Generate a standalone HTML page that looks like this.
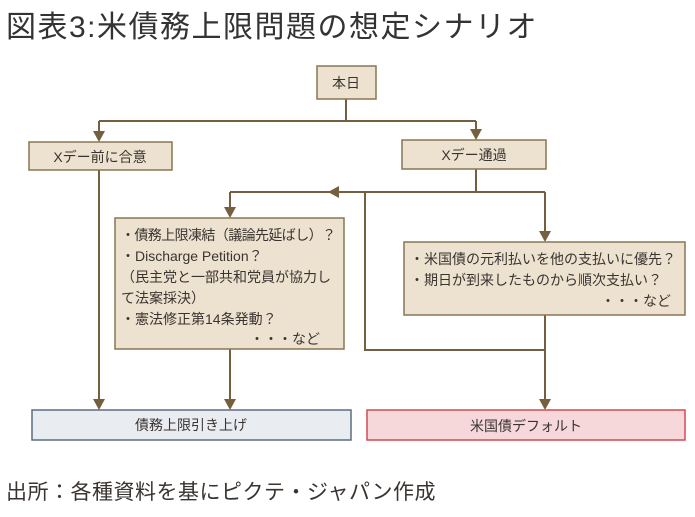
<!DOCTYPE html>
<html><head><meta charset="utf-8"><style>
body{margin:0;background:#fff;width:695px;height:512px;overflow:hidden}
svg text{font-family:"Liberation Sans","Noto Sans CJK JP",sans-serif;fill:#3a3430}
</style></head><body>
<svg width="695" height="512" xmlns="http://www.w3.org/2000/svg">
<text x="6" y="37" font-size="30" style="fill:#333;letter-spacing:1.5px">図表3:米債務上限問題の想定シナリオ</text>
<g stroke="#74603e" stroke-width="2" fill="none">
<line x1="346" y1="99" x2="346" y2="121"/>
<polyline points="99,121 476,121"/>
<line x1="99" y1="121" x2="99" y2="133"/>
<line x1="476" y1="121" x2="476" y2="131"/>
<line x1="476" y1="169" x2="476" y2="192"/>
<polyline points="230,192 545,192"/>
<line x1="230" y1="192" x2="230" y2="208"/>
<line x1="545" y1="192" x2="545" y2="232"/>
<polyline points="365,192 365,350 545,350"/>
<line x1="545" y1="315" x2="545" y2="400"/>
<line x1="99" y1="170" x2="99" y2="400"/>
<line x1="230" y1="349" x2="230" y2="400"/>
</g>
<g fill="#74603e">
<path d="M328,192 L339,186 L339,198 z"/>
<path d="M93,131 L105,131 L99,142 z"/>
<path d="M470,129 L482,129 L476,140 z"/>
<path d="M224,207 L236,207 L230,218 z"/>
<path d="M539,231 L551,231 L545,242 z"/>
<path d="M93,399 L105,399 L99,410 z"/>
<path d="M224,399 L236,399 L230,410 z"/>
<path d="M539,399 L551,399 L545,410 z"/>
</g>
<g fill="#ede2d0" stroke="#8a7552" stroke-width="1.5">
<rect x="317" y="66" width="59" height="33"/>
<rect x="29" y="142" width="143" height="28"/>
<rect x="402" y="140" width="144" height="29"/>
<rect x="115" y="218" width="229" height="131"/>
<rect x="404" y="242" width="281" height="73"/>
</g>
<rect x="32" y="410" width="319" height="30" fill="#e9edf2" stroke="#5d6b80" stroke-width="1.5"/>
<rect x="367" y="410" width="318" height="30" fill="#f6d8db" stroke="#d24a55" stroke-width="1.5"/>
<g font-size="14">
<text x="346" y="88" text-anchor="middle">本日</text>
<text x="100" y="162" text-anchor="middle">Xデー前に合意</text>
<text x="474" y="160" text-anchor="middle">Xデー通過</text>
<text x="121" y="240" textLength="215">・債務上限凍結（議論先延ばし）？</text>
<text x="121" y="261">・Discharge Petition？</text>
<text x="121" y="282">（民主党と一部共和党員が協力し</text>
<text x="121" y="303">て法案採決）</text>
<text x="121" y="324">・憲法修正第14条発動？</text>
<text x="320" y="344" text-anchor="end">・・・など</text>
<text x="410" y="264">・米国債の元利払いを他の支払いに優先？</text>
<text x="410" y="285">・期日が到来したものから順次支払い？</text>
<text x="671" y="306" text-anchor="end">・・・など</text>
<text x="191" y="430" text-anchor="middle">債務上限引き上げ</text>
<text x="526" y="431" text-anchor="middle">米国債デフォルト</text>
</g>
<text x="6" y="499" font-size="21" style="letter-spacing:0.5px">出所：各種資料を基にピクテ・ジャパン作成</text>
</svg>
</body></html>
